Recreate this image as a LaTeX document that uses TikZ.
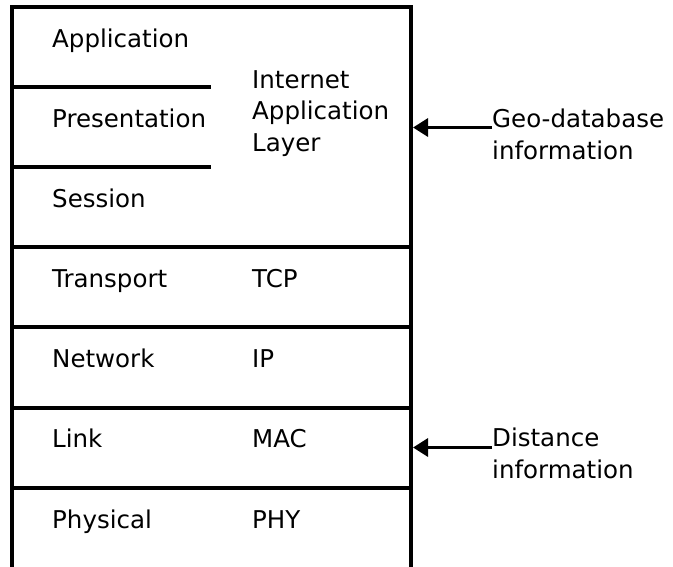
\documentclass[tikz,border=0pt]{standalone}
\usepackage{fontspec}
\setmainfont{DejaVu Sans}
\usetikzlibrary{arrows.meta}
\begin{document}
\begin{tikzpicture}[x=1pt,y=-1pt,
  lbl/.style={font=\fontsize{24.5}{31.5}\selectfont, inner sep=0pt, anchor=base west, align=left},
  frame/.style={line width=3.2pt},
  infoarrow/.style={line width=3.2pt, -{Triangle[length=15pt,width=18pt]}}]
\useasboundingbox (0,0) rectangle (673,566);
\clip (0,0) rectangle (673,566);
% stack outline and separators
\draw[frame] (12,7) rectangle (411,569);
\draw[frame] (12,87) -- (211,87);
\draw[frame] (12,167) -- (211,167);
\draw[frame] (12,247) -- (411,247);
\draw[frame] (12,327) -- (411,327);
\draw[frame] (12,408) -- (411,408);
\draw[frame] (12,488) -- (411,488);
% left labels
\node[lbl] (app) at (52,47) {Application};
\node[lbl] (pres) at (52,127) {Presentation};
\node[lbl] (sess) at (52,207) {Session};
\node[lbl] (trans) at (52,287) {Transport};
\node[lbl] (net) at (52,367) {Network};
\node[lbl] (link) at (52,447) {Link};
\node[lbl] (phys) at (52,528) {Physical};
% right labels (base anchor = last line)
\node[lbl] (ial) at (252,151) {Internet\\Application\\Layer};
\node[lbl] (tcp) at (252,287) {TCP};
\node[lbl] (ip) at (252,367) {IP};
\node[lbl] (mac) at (252,447) {MAC};
\node[lbl] (phy) at (252,528) {PHY};
% external info
\node[lbl] (geo) at (492,159) {Geo-database\\information};
\node[lbl] (dist) at (492,478) {Distance\\information};
\coordinate (geoin) at (413,127.5);
\coordinate (distin) at (413,447.5);
\draw[infoarrow] (geo.west |- geoin) -- (geoin);
\draw[infoarrow] (dist.west |- distin) -- (distin);
\end{tikzpicture}
\end{document}
